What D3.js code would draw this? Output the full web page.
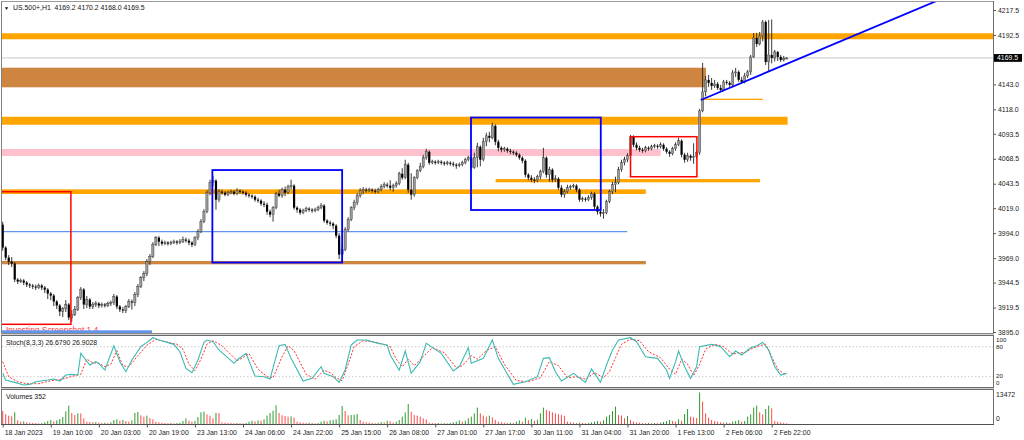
<!DOCTYPE html>
<html><head><meta charset="utf-8">
<script src="https://cdn.jsdelivr.net/npm/d3@7/dist/d3.min.js"></script>
<style>
html,body{margin:0;padding:0;background:#fff;}
svg{display:block;font-family:"Liberation Sans",Arial,sans-serif;}
</style></head><body>
<svg id="c" width="1024" height="440"></svg>
<script>
// ---------------- DATA ----------------
const symbolTitle = "US.500+,H1  4169.2 4170.2 4168.0 4169.5";
const stochTitle = "Stoch(8,3,3) 26.6790 26.9028";
const volTitle = "Volumes 352";
const watermark = "Investing Screenshot 1.4";
const firstOpen = 4002.5;
const closes = [3979.5,3969.5,3965.5,3963.5,3947.5,3945.5,3946.5,3944.5,3942.5,3941.5,
3940.5,3939.5,3941.5,3939.5,3937.5,3933.5,3931.5,3925.5,3921.5,3915.5,
3918.5,3922.5,3909.5,3912.5,3917.5,3929.5,3937.5,3922.5,3927.5,3920.5,
3922.5,3923.5,3921.5,3922.5,3921.5,3923.5,3924.5,3930.5,3920.5,3917.5,
3916.5,3920.5,3925.5,3924.5,3932.5,3940.5,3949.5,3953.5,3965.5,3970.5,
3982.5,3989.5,3985.5,3983.5,3984.5,3983.5,3984.5,3985.5,3984.5,3985.5,
3987.5,3986.5,3984.5,3982.5,3989.5,3995.5,4005.5,4015.5,4034.5,4044.5,
4046.5,4027.5,4035.5,4034.5,4032.5,4034.5,4035.5,4033.5,4036.5,4035.5,
4034.5,4032.5,4031.5,4030.5,4027.5,4026.5,4023.5,4022.5,4015.5,4012.5,
4019.5,4033.5,4031.5,4037.5,4034.5,4040.5,4041.5,4019.5,4017.5,4014.5,
4016.5,4018.5,4017.5,4016.5,4017.5,4019.5,4021.5,4006.5,4004.5,4003.5,
4001.5,3991.5,3972.5,3977.5,3997.5,4007.5,4019.5,4024.5,4031.5,4036.5,
4037.5,4036.5,4037.5,4036.5,4035.5,4037.5,4040.5,4042.5,4041.5,4039.5,
4041.5,4043.5,4053.5,4049.5,4062.5,4037.5,4032.5,4049.5,4056.5,4060.5,
4069.5,4075.5,4064.5,4065.5,4064.5,4065.5,4064.5,4063.5,4064.5,4063.5,
4062.5,4061.5,4062.5,4064.5,4067.5,4069.5,4059.5,4069.5,4080.5,4067.5,
4085.5,4091.5,4089.5,4101.5,4085.5,4079.5,4077.5,4078.5,4076.5,4075.5,
4074.5,4072.5,4069.5,4066.5,4052.5,4049.5,4047.5,4046.5,4050.5,4055.5,
4069.5,4052.5,4057.5,4047.5,4048.5,4039.5,4032.5,4035.5,4039.5,4040.5,
4041.5,4037.5,4027.5,4028.5,4027.5,4029.5,4033.5,4020.5,4015.5,4013.5,
4014.5,4025.5,4035.5,4042.5,4044.5,4057.5,4064.5,4067.5,4071.5,4090.5,
4082.5,4079.5,4077.5,4076.5,4079.5,4078.5,4080.5,4081.5,4080.5,4082.5,
4078.5,4075.5,4073.5,4078.5,4082.5,4086.5,4072.5,4067.5,4071.5,4069.5,
4070.5,4074.5,4116.5,4135.5,4147.5,4144.5,4141.5,4143.5,4139.5,4137.5,
4145.5,4144.5,4142.5,4154.5,4155.5,4147.5,4145.5,4151.5,4155.5,4170.5,
4189.5,4183.5,4191.5,4205.5,4165.5,4172.5,4169.5,4175.5,4170.5,4167.5,
4169.2,4169.5];
const highs = [4005.5,3981,3972,3970,3965,3949,3948.5,3948,3946,3944,
3943,3942.5,3943.5,3943,3941,3939,3935,3933,3927,3923,
3920,3927,3924,3917,3921,3931,3940,3939,3931,3929,
3925,3926,3925,3924.5,3924,3925.5,3926.5,3933,3932,3922,
3920,3922,3928,3927.5,3935,3943,3951,3956,3968,3973,
3985,3991,3991,3987.5,3986.5,3986,3986.5,3987.5,3987,3988,
3990.5,3989.5,3988.5,3986,3991,3998,4008,4018,4037,4047.5,
4051.5,4048,4038,4037.5,4036,4036.5,4037.5,4037,4039,4038,
4037,4036,4034,4033,4032,4029.5,4028,4026,4024.5,4017.5,
4021,4035.5,4037.5,4039.5,4040.5,4042.5,4047.5,4043,4021,4019,
4018.5,4020.5,4020,4019,4019.5,4021.5,4024,4023,4008,4006.5,
4005,4003,3994,3981,4000,4010,4021,4027.5,4034,4039,
4040,4039.5,4039.5,4039,4038.5,4039.5,4043,4045,4044.5,4047,
4043.5,4046,4055.5,4059,4067.5,4064.5,4054,4051,4058,4064.5,
4072.5,4078.5,4077,4067.5,4067,4067.5,4067,4066,4066.5,4066,
4065.5,4064,4064.5,4066.5,4069.5,4071.5,4071,4074.5,4084.5,4082,
4089.5,4094.5,4095.5,4104.5,4103,4087.5,4081,4080.5,4080,4078.5,
4077,4076,4074,4071,4068,4054,4052,4050,4052.5,4057.5,
4079.5,4071,4060.5,4059,4052,4050,4042,4038,4042.5,4042.5,
4043.5,4043,4039,4030.5,4030,4032,4035.5,4035,4022,4017.5,
4018,4027.5,4037.5,4045.5,4050.5,4060.5,4067.5,4070.5,4074,4092.5,
4092,4085,4081.5,4079.5,4081.5,4081,4082.5,4083.5,4083,4085,
4084,4080,4077,4080.5,4085,4089.5,4088,4074.5,4074.5,4073,
4084,4077,4118.5,4164.5,4151.5,4152.5,4149.5,4147.5,4145.5,4142.5,
4147.5,4147.5,4146.5,4157.5,4159.5,4157,4150.5,4154.5,4157.5,4172.5,
4194.5,4194.5,4195.5,4207.5,4207,4207.5,4208,4177.5,4176.5,4172.5,
4171.5,4170.2];
const lows = [3976.5,3967,3962,3960,3945,3943,3944,3942,3940,3939,
3938,3937,3938,3937,3934,3928,3927,3921,3918,3911,
3910,3915,3907,3905.5,3911,3916,3927,3918,3919,3918,
3918,3920,3919,3919.5,3919.5,3920,3921,3922,3918,3915,
3914,3914,3919,3917.5,3921,3930,3939,3946,3951,3962,
3969,3981,3981,3981.5,3982,3981.5,3982,3983,3982.5,3983,
3984,3984.5,3982,3980,3981,3987,3994,4004,4014,4032,
4041,4017.5,4025,4032.5,4031,4031,4033,4032,4032,4033.5,
4032.5,4030.5,4029.5,4028.5,4025.5,4024.5,4021.5,4020,4012.5,4010,
4005.5,4018,4030,4029.5,4031,4033,4038,4017.5,4014.5,4012.5,
4013,4015,4015.5,4014.5,4015,4016,4018,4004.5,4002.5,4001,
3998,3989,3968,3965.5,3976,3995.5,4006,4017,4022,4029.5,
4033,4034.5,4035,4034.5,4033.5,4034,4036,4039,4039.5,4037,
4035.5,4039.5,4042,4047.5,4048,4034.5,4027.5,4030.5,4048,4055,
4059,4067.5,4062.5,4063,4062.5,4063,4062.5,4061.5,4062,4061.5,
4060.5,4058.5,4060,4061,4063,4066,4057.5,4058.5,4060,4061,
4066,4081,4085,4088,4082,4076,4075,4075.5,4074.5,4073,
4072.5,4070.5,4067.5,4064,4050,4047,4045,4044,4045,4048,
4054,4049.5,4045.5,4045,4045.5,4037.5,4030,4029.5,4034,4037.5,
4039,4035,4025.5,4025.5,4025.5,4026,4027.5,4018,4012.5,4010.5,
4008.5,4013,4024,4033,4035,4043,4055.5,4062,4065,4070,
4080,4077,4075.5,4074.5,4075,4076.5,4077,4079,4078.5,4079,
4076.5,4073.5,4070.5,4072,4076.5,4081,4070,4064.5,4065.5,4066.5,
4063.5,4068.5,4072.5,4115,4131,4140.5,4137.5,4139.5,4137.5,4135.5,
4136,4142.5,4140.5,4141,4150.5,4145.5,4144.5,4144,4149.5,4152.5,
4169.5,4180.5,4182,4186,4162.5,4155.5,4164,4166,4166.5,4165.5,
4166,4168.0];
const volumes = [5560,4140,3570,3280,4990,1570,1000,1140,710,570,
430,420,290,380,710,1280,1710,1140,1570,2140,
3000,5420,7850,4710,3850,4570,4500,2420,1000,860,
710,860,570,430,570,430,710,1710,2000,1430,
1710,1280,1000,1570,4710,5140,3710,3140,3570,2570,
2000,1000,710,570,430,360,430,290,430,570,
1280,2420,1430,1000,1280,3000,5000,5280,4140,3570,
2420,4710,4700,710,570,500,430,360,430,360,
290,430,1000,1430,1140,1570,1430,2000,3570,4710,
5700,8000,4710,3710,3420,3140,3280,2710,1000,710,
570,430,570,430,290,430,1000,1430,1140,1570,
1710,2000,3850,7700,5560,3710,3850,4000,4280,1710,
1000,710,570,430,360,570,860,710,1430,1140,
570,1000,1710,3140,5000,8560,5280,3850,3570,3140,
2420,2000,570,430,360,430,290,360,290,430,
710,1000,1570,1000,1430,2420,3140,4560,6990,4560,
3570,3140,3570,2850,1710,1000,710,570,430,570,
430,1000,1570,1000,2710,1710,2140,1430,1850,4560,
6990,6000,5560,5000,4560,4140,3850,3420,1000,710,
570,430,570,430,360,430,710,1000,1280,1000,
1570,3140,3850,5560,7420,3850,3570,2420,3420,1710,
1000,710,570,430,360,430,290,430,360,570,
860,1280,1710,1280,1000,2000,1430,4280,6420,3140,
2850,2570,13472,9560,4560,2710,1710,1280,1000,710,
570,710,430,1000,1280,1710,1000,1280,3140,4140,
6990,7840,5000,4140,6420,7840,6700,1280,1000,710,
570,352];
// stochastic main (%K) and signal (%D) as [bar, value]
const stochMain = [[0,26.7],[1,13.4],[4,8.7],[7,3.4],[9,4.7],[11,10],[15,13.4],[17,15.4],[19,11.4],[21,23.4],
[23,24.7],[25,23.4],[26,66.7],[29,43.4],[31,50],[32,46.7],[34,33.4],[37,82],[39,50],[41,30],
[43,53.4],[46,80],[48,88.7],[50,98],[52,93.4],[57,84.7],[59,70],[61,36.7],[63,28],[65,53.4],
[67,88.7],[68,93.4],[70,90],[72,73.4],[77,46.7],[78,53.4],[81,66.7],[84,21.4],[87,20],[89,15.4],
[92,82],[94,84.7],[96,56.7],[100,11.4],[103,16.7],[106,40],[107,26.7],[110,20],[112,8.7],[114,33.4],
[116,83.4],[118,93.4],[121,93.4],[125,86.7],[128,83.4],[129,63.4],[132,33],[134,71.4],[136,26.7],[139,50],
[141,86.7],[146,66.7],[150,31.4],[152,40],[155,78],[156,46.7],[160,56.7],[163,93.4],[165,56.7],[170,4.7],
[174,10],[178,20],[180,56.7],[182,58],[184,30],[186,11.4],[190,26.7],[194,8.7],[196,35.4],[199,8.7],
[201,43.4],[203,73.4],[205,93.4],[209,98],[211,90],[214,60],[218,56.7],[221,33.4],[222,16.7],[224,50],
[225,71.4],[227,40],[229,16.7],[231,40],[232,80],[236,84.7],[239,80],[242,60],[244,71.4],[246,63.4],
[249,78],[251,82],[253,88.7],[255,73.4],[257,40],[259,23.4],[261,26.679]];
const stochSignal = [[0,50],[2,20],[5,10],[8,6],[12,6],[16,12],[19,14],[21,17],[24,22],[26,25],
[28,55],[30,48],[32,47],[34,40],[36,45],[38,72],[40,42],[42,40],[45,62],[48,83],
[51,95],[54,90],[58,85],[60,75],[62,45],[64,32],[66,55],[68,85],[70,92],[73,82],
[78,52],[80,58],[82,66],[85,35],[88,20],[90,18],[93,60],[95,82],[97,72],[101,25],
[104,15],[107,33],[109,28],[111,18],[113,12],[115,45],[117,80],[120,92],[125,88],[129,80],
[131,55],[133,40],[135,55],[137,42],[140,60],[143,78],[147,68],[151,38],[153,42],[156,62],
[158,55],[161,72],[164,80],[167,45],[171,12],[175,10],[179,18],[182,50],[185,42],[188,18],
[191,20],[194,15],[197,28],[200,18],[202,30],[204,58],[206,85],[209,95],[212,92],[215,70],
[219,58],[222,35],[224,25],[226,55],[228,45],[230,22],[232,45],[234,75],[237,85],[240,80],
[243,65],[245,68],[247,68],[250,78],[252,82],[254,85],[256,60],[258,35],[260,26],[261,26.9028]];
const priceTicks = [4217.5,4192.5,4143.0,4118.0,4093.5,4068.5,4043.5,4019.0,3994.0,3969.0,3944.5,3919.5,3895.0];
const lastPrice = 4169.5;
const stochLevels = [100,80,20,0];
const timeLabelBars = [0,16,32,48,64,80,96,112,128,144,160,176,192,208,224,240,256];
const timeLabels = ["18 Jan 2023","19 Jan 10:00","20 Jan 03:00","20 Jan 19:00","23 Jan 13:00","24 Jan 06:00",
"24 Jan 22:00","25 Jan 15:00","26 Jan 08:00","27 Jan 01:00","27 Jan 17:00","30 Jan 11:00","31 Jan 04:00",
"31 Jan 20:00","1 Feb 13:00","2 Feb 06:00","2 Feb 22:00"];
// horizontal zones: kind, price top/bottom, bar start/end
const zoneKind   = ["orange","brown","orange","pink","orange","orange","brown","orange"];
const zoneTop    = [4194.2,4159.7,4110.6,4078.3,4048.2,4037.9,3966.1,4128.7];
const zoneBottom = [4188.2,4140.1,4102.6,4071.3,4044.9,4033.2,3962.8,4127.4];
const zoneStart  = [-10,-10,-10,-10,164.1,-10,-10,232.4];
const zoneEnd    = [400,234.1,261.3,219,252.1,214.1,214.1,253];
const hLinePrice = [3995.6];
const hLineStart = [-10];
const hLineEnd = [207.9];
// rectangles
const rectKind   = ["red","blue","blue","red"];
const rectStart  = [-10,69.8,155.9,209];
const rectEnd    = [22.7,113,199.1,231.1];
const rectTop    = [4035.5,4057.2,4109.8,4090.6];
const rectBottom = [3902.7,3964.6,4017.2,4050.5];
// trend line (bar, price)
const trendBars = [232.4,300];
const trendPrices = [4127.4,4212.8];
const volMax = 13472;

// ---------------- STYLES ----------------
const zoneColor = {orange:"#FFA500", brown:"#CD853F", pink:"#FFC0CB"};
const rectColor = {red:"#FF0000", blue:"#0000FF"};
const rectWidth = {red:1.5, blue:1.8};
const FONT = 6.9;

// ---------------- DRAW ----------------
const svg = d3.select("#c");
const L = 2, R = 993;
const x  = d3.scaleLinear().domain([0,256]).range([2.7,771.7]);
const y  = d3.scaleLinear().domain([3895,4217.5]).range([332,10]);
const ys = d3.scaleLinear().domain([0,100]).range([386.7,336.7]);
const yv = d3.scaleLinear().domain([0,volMax]).range([424,392.5]);

const defs = svg.append("defs");
defs.append("clipPath").attr("id","cm").append("rect").attr("x",L).attr("y",2).attr("width",R-L).attr("height",331);
defs.append("clipPath").attr("id","cs").append("rect").attr("x",L).attr("y",336).attr("width",R-L).attr("height",51);
defs.append("clipPath").attr("id","cv").append("rect").attr("x",L).attr("y",389.5).attr("width",R-L).attr("height",34.5);

const gm = svg.append("g").attr("clip-path","url(#cm)");
// zones
const zones = zoneKind.map((k,i)=>({k,t:zoneTop[i],b:zoneBottom[i],s:zoneStart[i],e:zoneEnd[i]}));
gm.selectAll("rect.zone").data(zones).join("rect").attr("class","zone")
  .attr("x",d=>x(d.s)).attr("width",d=>x(d.e)-x(d.s))
  .attr("y",d=>y(d.t)).attr("height",d=>Math.max(1.2,y(d.b)-y(d.t)))
  .attr("fill",d=>zoneColor[d.k]);
// thin line
gm.selectAll("line.hl").data(hLinePrice).join("line").attr("class","hl")
  .attr("x1",(d,i)=>x(hLineStart[i])).attr("x2",(d,i)=>x(hLineEnd[i]))
  .attr("y1",d=>y(d)).attr("y2",d=>y(d)).attr("stroke","#6495ED").attr("stroke-width",1.3);
// current price line
gm.append("line").attr("x1",L).attr("x2",R).attr("y1",y(lastPrice)).attr("y2",y(lastPrice))
  .attr("stroke","#c8c8c8").attr("stroke-width",1);

// candles
const bars = closes.map((c,i)=>({i,o:i?closes[i-1]:firstOpen,h:highs[i],l:lows[i],c,v:volumes[i]}));
gm.selectAll("line.wick").data(bars).join("line").attr("class","wick")
  .attr("x1",d=>x(d.i)).attr("x2",d=>x(d.i)).attr("y1",d=>y(d.h)).attr("y2",d=>y(d.l))
  .attr("stroke","#222").attr("stroke-width",0.9);
gm.selectAll("rect.body").data(bars).join("rect").attr("class","body")
  .attr("x",d=>x(d.i)-1.1).attr("width",2.2)
  .attr("y",d=>y(Math.max(d.o,d.c))).attr("height",d=>Math.max(1,Math.abs(y(d.o)-y(d.c))))
  .attr("fill",d=>d.c>=d.o?"#9a9a9a":"#000")
  .attr("stroke",d=>d.c>=d.o?"#333":"none").attr("stroke-width",0.4);

// rectangles
const rects = rectKind.map((k,i)=>({k,s:rectStart[i],e:rectEnd[i],t:rectTop[i],b:rectBottom[i]}));
gm.selectAll("rect.box").data(rects).join("rect").attr("class","box")
  .attr("x",d=>x(d.s)).attr("width",d=>x(d.e)-x(d.s))
  .attr("y",d=>y(d.t)).attr("height",d=>y(d.b)-y(d.t))
  .attr("fill","none").attr("stroke",d=>rectColor[d.k]).attr("stroke-width",d=>rectWidth[d.k]);

// trend line (ray)
const slope = (trendPrices[1]-trendPrices[0])/(trendBars[1]-trendBars[0]);
const rayEnd = 340;
gm.append("line")
  .attr("x1",x(trendBars[0])).attr("y1",y(trendPrices[0]))
  .attr("x2",x(rayEnd)).attr("y2",y(trendPrices[0]+slope*(rayEnd-trendBars[0])))
  .attr("stroke","#0000FF").attr("stroke-width",1.8);

// watermark
svg.append("text").attr("x",6).attr("y",332.5).attr("font-size",8.4).attr("fill","#ff3b3b").text(watermark);
svg.append("rect").attr("x",L).attr("y",330.3).attr("width",150).attr("height",3.2).attr("fill","#6495ED");

// stochastic pane
const gs = svg.append("g").attr("clip-path","url(#cs)");
[80,20].forEach(v=>gs.append("line").attr("x1",L).attr("x2",R).attr("y1",ys(v)).attr("y2",ys(v))
  .attr("stroke","#c4c4c4").attr("stroke-dasharray","1.5,2").attr("stroke-width",0.9));
const sline = d3.line().x(d=>x(d[0])).y(d=>ys(d[1]));
gs.append("path").attr("d",sline(stochSignal)).attr("fill","none").attr("stroke","#ff3030")
  .attr("stroke-width",1).attr("stroke-dasharray","2,1.6");
gs.append("path").attr("d",sline(stochMain)).attr("fill","none").attr("stroke","#3cbab2").attr("stroke-width",1.1);

// volumes pane
const gv = svg.append("g").attr("clip-path","url(#cv)");
gv.selectAll("line.vol").data(bars).join("line").attr("class","vol")
  .attr("x1",d=>x(d.i)).attr("x2",d=>x(d.i)).attr("y1",yv(0)).attr("y2",d=>yv(d.v))
  .attr("stroke",d=>(d.i>0 && d.v>bars[d.i-1].v)?"#2f9a2f":"#ff4a4a").attr("stroke-width",1);

// frames
const frame = svg.append("g").attr("fill","none");
frame.append("line").attr("x1",L-0.5).attr("x2",R).attr("y1",1.5).attr("y2",1.5).attr("stroke","#9a9a9a");
frame.append("line").attr("x1",1.5).attr("x2",1.5).attr("y1",1).attr("y2",424.5).attr("stroke","#808080");
frame.append("line").attr("x1",R+0.5).attr("x2",R+0.5).attr("y1",1).attr("y2",424.5).attr("stroke","#707070");
[[333.5,"#8a8a8a"],[334.5,"#d0d0d0"],[335.5,"#6a6a6a"],[387.5,"#6a6a6a"],[388.5,"#d0d0d0"],[389.5,"#6a6a6a"],[424.5,"#505050"]]
  .forEach(([yy,c])=>frame.append("line").attr("x1",1).attr("x2",R+1).attr("y1",yy).attr("y2",yy).attr("stroke",c));

// price axis
const ax = svg.append("g").attr("transform",`translate(${R+0.5},0)`)
  .call(d3.axisRight(y).tickValues(priceTicks).tickFormat(d3.format(".1f")).tickSize(2.5).tickPadding(2));
ax.select(".domain").remove();
ax.attr("font-size",FONT).attr("font-family","Liberation Sans, Arial, sans-serif");
ax.selectAll("line").attr("stroke","#555");
ax.selectAll("text").attr("fill","#222");
// last price label
svg.append("rect").attr("x",994).attr("y",y(lastPrice)-3.9).attr("width",28).attr("height",7.8).attr("fill","#000");
svg.append("text").attr("x",997).attr("y",y(lastPrice)+2.5).attr("font-size",FONT).attr("fill","#fff").text(lastPrice.toFixed(1));

// stoch axis labels (stacked like the terminal draws them)
const stochLabelY = [342.3,348.6,378.3,384.6];
stochLevels.forEach((v,i)=>
  svg.append("text").attr("x",996).attr("y",stochLabelY[i]).attr("font-size",6.2).attr("fill","#222").text(v));
// volume axis labels
svg.append("text").attr("x",996).attr("y",396.8).attr("font-size",FONT).attr("fill","#222").text(volMax);
svg.append("text").attr("x",996).attr("y",420.8).attr("font-size",FONT).attr("fill","#222").text(0);

// time axis
const tx = svg.append("g").attr("transform","translate(0,424.5)")
  .call(d3.axisBottom(x).tickValues(timeLabelBars).tickFormat((d,i)=>timeLabels[i]).tickSize(3).tickPadding(2.5));
tx.select(".domain").remove();
tx.attr("font-size",FONT).attr("font-family","Liberation Sans, Arial, sans-serif");
tx.selectAll("line").attr("stroke","#555");
tx.selectAll("text").attr("text-anchor","start").attr("dx",1.5).attr("fill","#222");

// titles
svg.append("text").attr("x",4).attr("y",9.6).attr("font-size",5).attr("fill","#000").text("▼");
svg.append("text").attr("x",13).attr("y",10).attr("font-size",FONT).attr("fill","#111")
  .attr("xml:space","preserve").style("white-space","pre").text(symbolTitle);
svg.append("text").attr("x",6).attr("y",345).attr("font-size",FONT).attr("fill","#111").text(stochTitle);
svg.append("text").attr("x",6).attr("y",398.5).attr("font-size",FONT).attr("fill","#111").text(volTitle);
</script>
</body></html>
